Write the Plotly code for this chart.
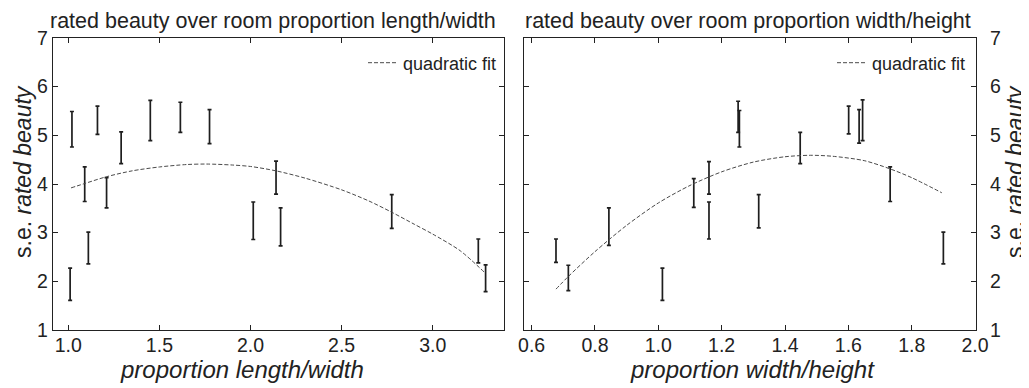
import plotly.graph_objects as go

FONT = "Liberation Sans, Arial, sans-serif"

# ---- data: left panel (proportion length/width) ----
lw_x = [1.02, 1.01, 1.09, 1.11, 1.16, 1.21, 1.29, 1.45, 1.615, 1.775, 2.015, 2.14, 2.165, 2.775, 3.25, 3.29]
lw_mean = [5.125, 1.94, 3.995, 2.685, 5.31, 3.82, 4.745, 5.305, 5.37, 5.18, 3.245, 4.13, 3.12, 3.435, 2.625, 2.065]
lw_se = [0.365, 0.33, 0.355, 0.325, 0.29, 0.31, 0.325, 0.415, 0.31, 0.35, 0.385, 0.34, 0.39, 0.345, 0.245, 0.275]
lw_fit_x = [1.015, 1.09, 1.21, 1.35, 1.5, 1.65, 1.76, 1.9, 2.0, 2.14, 2.3, 2.5, 2.65, 2.775, 2.9, 3.0, 3.15, 3.288]
lw_fit_y = [3.92, 4.01, 4.15, 4.27, 4.35, 4.40, 4.41, 4.39, 4.36, 4.27, 4.12, 3.88, 3.65, 3.42, 3.17, 2.97, 2.63, 2.17]

# ---- data: right panel (proportion width/height) ----
wh_x = [0.677, 0.716, 0.844, 1.013, 1.112, 1.16, 1.16, 1.252, 1.256, 1.317, 1.448, 1.601, 1.634, 1.645, 1.732, 1.90]
wh_mean = [2.63, 2.07, 3.125, 1.94, 3.815, 4.125, 3.25, 5.38, 5.135, 3.44, 4.74, 5.315, 5.185, 5.31, 3.995, 2.685]
wh_se = [0.24, 0.26, 0.385, 0.33, 0.295, 0.335, 0.38, 0.32, 0.375, 0.34, 0.32, 0.285, 0.345, 0.42, 0.355, 0.325]
wh_fit_x = [0.677, 0.716, 0.8, 0.9, 1.0, 1.1, 1.2, 1.3, 1.4, 1.48, 1.55, 1.65, 1.732, 1.8, 1.895]
wh_fit_y = [1.84, 2.10, 2.61, 3.15, 3.61, 3.97, 4.25, 4.45, 4.56, 4.59, 4.57, 4.48, 4.31, 4.13, 3.82]

# tick labels
lw_ticks = [1.0, 1.5, 2.0, 2.5, 3.0]
wh_ticks = [0.6, 0.8, 1.0, 1.2, 1.4, 1.6, 1.8, 2.0]
y_ticks = [1, 2, 3, 4, 5, 6, 7]

titles = ["rated beauty over room proportion length/width",
          "rated beauty over room proportion width/height"]
xtitles = ["proportion length/width", "proportion width/height"]
ytitle = "s.e. <i>rated beauty</i>"
fit_name = "quadratic fit"

BAR = "#1e1e1e"
FIT = "#4a4a4a"
OFF = 8                      # default page (body) margin of the html
W, H = 1029 - OFF, 388 - OFF

fig = go.Figure()

def add_panel(x, mean, se, fx, fy, xa, ya, leg):
    fig.add_trace(go.Scatter(
        x=x, y=mean, mode="markers", xaxis=xa, yaxis=ya,
        marker=dict(size=1, color="rgba(0,0,0,0)"),
        error_y=dict(type="data", array=se, visible=True, color=BAR,
                     thickness=1.7, width=2),
        showlegend=False, hoverinfo="skip"))
    fig.add_trace(go.Scatter(
        x=fx, y=fy, mode="lines", xaxis=xa, yaxis=ya, name=fit_name,
        line=dict(color=FIT, width=1, dash="4px,2px", shape="spline", smoothing=0.8),
        legend=leg, showlegend=True))

add_panel(lw_x, lw_mean, lw_se, lw_fit_x, lw_fit_y, "x", "y", "legend")
add_panel(wh_x, wh_mean, wh_se, wh_fit_x, wh_fit_y, "x2", "y2", "legend2")

# page-pixel -> paper coordinate helpers
def px(v):
    return (v - OFF) / W

def py(v):
    return 1 - (v - OFF) / H

ax_common = dict(showline=True, linecolor="#222", linewidth=1.3, mirror="ticks",
                 ticks="inside", ticklen=5, tickwidth=1, tickcolor="#222",
                 showgrid=False, zeroline=False, automargin=False,
                 tickfont=dict(family=FONT, size=19.5, color="#222"))

fig.update_layout(
    template="none",
    width=W, height=H,
    margin=dict(l=0, r=0, t=0, b=0, pad=0, autoexpand=False),
    paper_bgcolor="white", plot_bgcolor="white",
    font=dict(family=FONT, color="#222"),
    xaxis=dict(domain=[px(53), px(504)], range=[0.916, 3.391], anchor="y",
               tickvals=lw_ticks, ticktext=[f"{t:.1f}" for t in lw_ticks],
               ticklabelstandoff=-3, **ax_common),
    yaxis=dict(domain=[py(330), py(38)], range=[1, 7], anchor="x",
               tickvals=y_ticks, ticklabelstandoff=0, **ax_common),
    xaxis2=dict(domain=[px(524), px(976)], range=[0.576, 2.003], anchor="y2",
                tickvals=wh_ticks, ticktext=[f"{t:.1f}" for t in wh_ticks],
                ticklabelstandoff=-3, **ax_common),
    yaxis2=dict(domain=[py(330), py(38)], range=[1, 7], anchor="x2", side="right",
                tickvals=y_ticks, ticklabelstandoff=9, **ax_common),
    legend=dict(x=px(502), y=py(63), xanchor="right", yanchor="middle",
                bgcolor="rgba(0,0,0,0)", borderwidth=0,
                font=dict(family=FONT, size=18, color="#222")),
    legend2=dict(x=px(971), y=py(63), xanchor="right", yanchor="middle",
                 bgcolor="rgba(0,0,0,0)", borderwidth=0,
                 font=dict(family=FONT, size=18, color="#222")),
)

anns = [
    dict(text=titles[0], x=px(272.5), y=py(21), font=dict(size=21.5)),
    dict(text=titles[1], x=px(748), y=py(21), font=dict(size=21.5)),
    dict(text=f"<i>{xtitles[0]}</i>", x=px(241.5), y=py(369), font=dict(size=24)),
    dict(text=f"<i>{xtitles[1]}</i>", x=px(752), y=py(369), font=dict(size=24)),
    dict(text=ytitle, x=px(23), y=py(172), textangle=-90, font=dict(size=23)),
    dict(text=ytitle, x=px(1015), y=py(172), textangle=-90, font=dict(size=23)),
]
for a in anns:
    a.update(xref="paper", yref="paper", xanchor="center", yanchor="middle", showarrow=False)
    a["font"].update(family=FONT, color="#222")
    fig.add_annotation(**a)

fig.write_html("out.html")
